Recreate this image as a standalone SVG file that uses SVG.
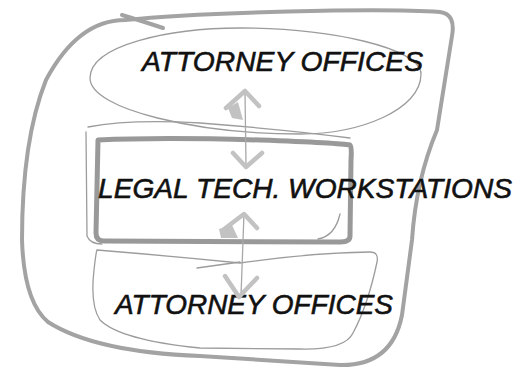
<svg xmlns="http://www.w3.org/2000/svg" width="520" height="370" viewBox="0 0 520 370">
<style>
.thick{fill:none;stroke:#a3a3a3;stroke-width:4;stroke-linecap:round;stroke-linejoin:round}
.mid{fill:none;stroke:#999;stroke-width:5;stroke-linecap:round;stroke-linejoin:round}
.thin{fill:none;stroke:#9c9c9c;stroke-width:1.3;stroke-linecap:round}
.head{fill:none;stroke:#c2c2c2;stroke-width:4.5;stroke-linecap:round;stroke-linejoin:round}
.blob{fill:#c2c2c2}
.shaft{fill:none;stroke:#a8a8a8;stroke-width:1.3}
.lbl{font-family:"Liberation Sans",Arial,sans-serif;font-style:italic;font-size:28px;fill:#111;stroke:#111;stroke-width:0.6}
</style>
<rect width="520" height="370" fill="#fff"/>
<g id="system">
<path class="thick" d="M125 20 C200 12 380 8 440 12 Q456 14 452 36 L437 130 Q416 180 412 240 L402 315 Q392 366 340 365 L200 356 Q95 352 48 322 Q24 302 22 240 Q22 140 46 80 Q78 20 125 20 Z"/>
<path class="thick" d="M122 15 Q145 22 163 28" stroke-width="3"/>
</g>
<g id="attorney-offices-top">
<path class="thin" d="M90 78 C90 45 170 28 240 28 C330 28 421 48 421 74 C421 110 360 134 300 134 C200 134 90 110 90 78 Z"/>
<text class="lbl" x="142" y="71" textLength="281" lengthAdjust="spacingAndGlyphs">ATTORNEY OFFICES</text>
</g>
<g id="legal-tech-workstations">
<path class="thin" d="M88 127 Q130 119 200 123 Q290 130 350 138 M86 132 L87 236 Q90 244 102 244 M340 214 Q335 236 318 239"/>
<path class="mid" d="M98 140 Q160 137 260 140 Q340 143 350 145 Q352 146 351 160 L350 236 Q350 242 340 242 L104 241 Q96 241 96 233 Z"/>
<text class="lbl" x="98" y="198" textLength="414" lengthAdjust="spacingAndGlyphs">LEGAL TECH. WORKSTATIONS</text>
</g>
<g id="attorney-offices-bottom">
<path class="thin" d="M97 250 Q170 256 240 263 Q310 253 370 252 Q379 252 377 262 Q368 305 353 333 Q345 350 300 349 L200 348 Q120 340 100 320 Q90 305 94 270 Q96 252 97 250 Z"/>
<path class="thin" d="M197 268 L240 262"/>
<text class="lbl" x="115" y="314" textLength="278" lengthAdjust="spacingAndGlyphs">ATTORNEY OFFICES</text>
</g>
<g id="connectors">
<path class="shaft" d="M245 92 L246 165"/>
<path class="head" d="M226 108 L245 91 L259 106"/>
<polygon class="blob" points="228,108 238,102 243,120 232,118"/>
<path class="head" d="M233 153 L246 167 L262 153"/>
<path class="shaft" d="M244 213 L241 296"/>
<path class="head" d="M223 230 L244 214 L257 228"/>
<polygon class="blob" points="219,229 232,225 238,238 221,238"/>
<path class="head" d="M225 276 L239 297 L257 278"/>
</g>
</svg>
